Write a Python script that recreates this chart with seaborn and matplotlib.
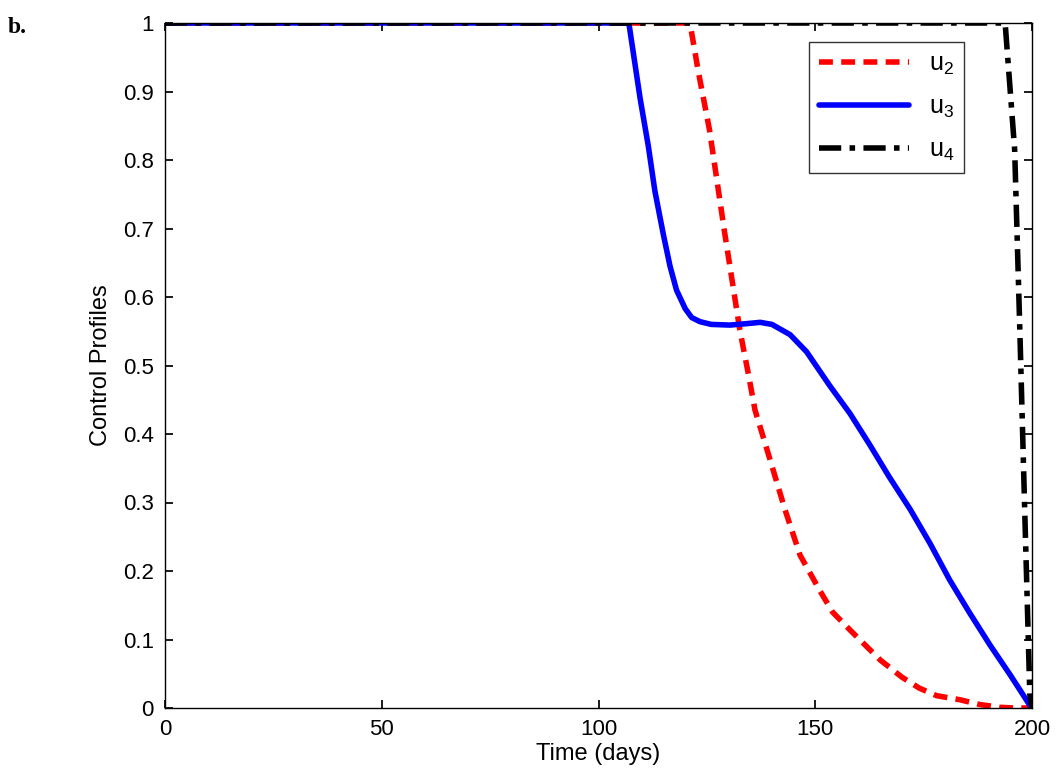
import matplotlib
matplotlib.use("Agg")
import matplotlib.pyplot as plt
import seaborn as sns
import pandas as pd

t2 = [0, 121.1, 123, 125.6, 129, 132.6, 134.5, 136.1, 139.6, 143, 146.5, 151, 154, 158, 165, 170, 174, 178, 183.4, 188, 192.6, 196, 200]
u2 = [1, 1, 0.93, 0.844, 0.698, 0.552, 0.49, 0.435, 0.362, 0.29, 0.223, 0.172, 0.14, 0.114, 0.07, 0.045, 0.029, 0.018, 0.012, 0.005, 0.001, 0.0, 0]
t3 = [0, 107, 109.6, 111.5, 113, 115, 116.5, 118, 120, 121.5, 123.4, 126, 130.3, 134, 137.3, 140, 144.2, 148, 153.4, 158, 162.6, 167, 171.9, 176.5, 181, 185.5, 190.3, 195, 199.5, 200]
u3 = [1, 1, 0.89, 0.82, 0.755, 0.69, 0.645, 0.61, 0.583, 0.57, 0.564, 0.56, 0.559, 0.561, 0.563, 0.56, 0.545, 0.52, 0.47, 0.43, 0.384, 0.338, 0.29, 0.24, 0.187, 0.14, 0.092, 0.048, 0.004, 0]
t4 = [0, 193.8, 196, 197.2, 198.4, 199.5, 200]
u4 = [1, 1, 0.815, 0.55, 0.27, 0.02, 0]

sns.set_theme(style="white")
plt.rcParams['font.family'] = ['Liberation Sans', 'DejaVu Sans']
plt.rcParams['mathtext.fontset'] = 'custom'
plt.rcParams['mathtext.rm'] = 'Liberation Sans'
plt.rcParams['mathtext.it'] = 'Liberation Sans'
plt.rcParams['text.color'] = 'black'
plt.rcParams['axes.labelcolor'] = 'black'
plt.rcParams['xtick.color'] = 'black'
plt.rcParams['ytick.color'] = 'black'
fig = plt.figure(figsize=(10.57, 7.81), dpi=100)
ax = fig.add_axes([165/1057, 1-708/781, (1032-165)/1057, (708-23)/781])

kw = dict(solid_joinstyle='round', dash_joinstyle='round')
sns.lineplot(x=t2, y=u2, ax=ax, color='#ff0000', lw=4, linestyle=(0, (2.5, 1.5)), label='u$_\\mathrm{2}$', **kw)
sns.lineplot(x=t3, y=u3, ax=ax, color='#0000ff', lw=4, label='u$_\\mathrm{3}$', **kw)
sns.lineplot(x=t4, y=u4, ax=ax, color='black', lw=4, linestyle=(0, (4, 1.5, 1, 1.5)), label='u$_\\mathrm{4}$', **kw)

ax.set_xlim(0, 200)
ax.set_ylim(0, 1)
ax.set_xticks([0, 50, 100, 150, 200])
ax.set_yticks([i/10 for i in range(11)])
ax.set_yticklabels(['0', '0.1', '0.2', '0.3', '0.4', '0.5', '0.6', '0.7', '0.8', '0.9', '1'])
ax.tick_params(labelsize=16, direction='in', length=6, pad=8, bottom=True, left=True, top=True, right=True)
for s in ax.spines.values():
    s.set_color('black'); s.set_linewidth(1)
ax.set_xlabel('Time (days)', fontsize=17, labelpad=2)
ax.set_ylabel('Control Profiles', fontsize=17, labelpad=8)
leg = ax.legend(loc='upper right', fontsize=18, frameon=True, fancybox=False,
                edgecolor='black', handlelength=3.6, labelspacing=0.7,
                bbox_to_anchor=(0.9215, 0.972), borderaxespad=0)
leg.get_frame().set_linewidth(1)
fig.text(8/1057, 1-33/781, 'b.', fontsize=17, fontweight='bold', family='Liberation Serif')
fig.savefig('out.png', dpi=100)
